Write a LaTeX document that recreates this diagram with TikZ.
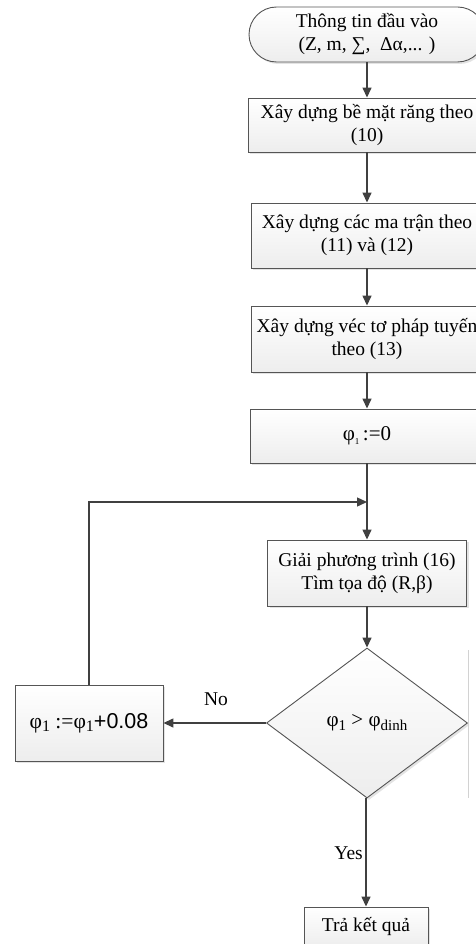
\documentclass[tikz,border=0pt]{standalone}
\usepackage{fontspec}
\setmainfont{Liberation Serif}
\newfontfamily\sansf{Liberation Sans}
\usetikzlibrary{shapes.geometric,shadows,arrows.meta}
\definecolor{lc}{RGB}{64,64,64}
\definecolor{bc}{RGB}{85,85,85}
\newcommand{\lowsub}[2]{\raisebox{-0.35ex}{\fontsize{#1}{#1}\selectfont #2}}
\begin{document}
\begin{tikzpicture}[x=1pt,y=-1pt,
  conn/.style={draw=lc, line width=1.4pt},
  arr/.style={conn, -{Triangle[length=10pt,width=9pt]}},
  shade/.style={top color=white, bottom color=gray!14,
    drop shadow={shadow xshift=2pt,shadow yshift=-2pt,opacity=0.22}},
  box/.style={draw=bc, line width=0.9pt, shade, inner sep=0pt, align=center,
    font=\fontsize{19.5}{23}\selectfont},
  term/.style={box, rounded corners=27.5pt},
  dia/.style={diamond, draw=bc, line width=0.9pt, shade, inner sep=0pt, aspect=1.34,
    minimum width=201pt, minimum height=150pt, font=\fontsize{21}{23}\selectfont},
  lbl/.style={font=\fontsize{19.5}{23}\selectfont, inner sep=0pt}
]
\useasboundingbox (0,0) rectangle (476,944);
\clip (0,0) rectangle (476,944);

\node[term, minimum width=236pt, minimum height=55pt] (t) at (367,34.5)
  {Thông tin đầu vào\\(Z, m, ∑,\ \ Δα,... )};
\node[box, minimum width=238pt, minimum height=54pt] (b1) at (367,125)
  {Xây dựng bề mặt răng theo\\(10)};
\node[box, minimum width=232pt, minimum height=65pt] (b2) at (367,235.5)
  {Xây dựng các ma trận theo\\(11) và (12)};
\node[box, minimum width=232pt, minimum height=66pt] (b3) at (367,339)
  {Xây dựng véc tơ pháp tuyến\\theo (13)};
\node[box, minimum width=234pt, minimum height=54pt, font=\fontsize{21}{23}\selectfont] (b4) at (367,436)
  {φ\lowsub{9}{1}\,:=0};
\node[box, minimum width=199pt, minimum height=66pt] (b5) at (367,573)
  {Giải phương trình (16)\\Tìm tọa độ (R,β)};
\node[dia] (d) at (367,723)
  {\raisebox{-0.8ex}{φ\lowsub{15}{1} > φ\lowsub{15}{dinh}}};
\node[box, minimum width=148pt, minimum height=76pt, font=\fontsize{21.5}{26}\selectfont] (lb) at (89,723)
  {φ\lowsub{16}{1} :=φ\lowsub{16}{1}{\sansf +0.08}};
\node[box, minimum width=124pt, minimum height=40pt] (fin) at (366,927)
  {Trả kết quả};

\coordinate (j) at (367,502);

\draw[arr] (t) -- (b1);
\draw[arr] (b1) -- (b2);
\draw[arr] (b2) -- (b3);
\draw[arr] (b3) -- (b4);
\draw[arr] (b4) -- (b5);
\draw[arr] (b5) -- (d);
\draw[arr] (d.west) -- (lb.east);
\draw[arr] (lb.north) |- (j);
\draw[arr] (d.south) -- (fin.north |- d.south) -- (fin.north);

\node[lbl] (no) at (216,699) {No};
\node[lbl, anchor=east] (yes) at (363,853) {Yes};

\draw[gray!35, line width=0.6pt] (468,650) -- (468,798);
\end{tikzpicture}
\end{document}
